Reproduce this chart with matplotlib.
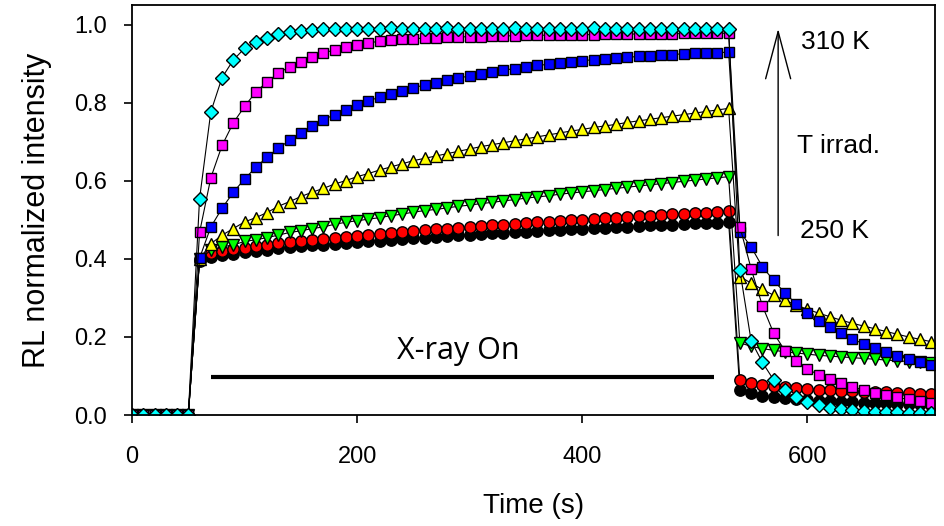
import matplotlib
matplotlib.use("Agg")
import matplotlib.pyplot as plt

# time axis (s), one reading every 10 s
time_s = [0, 10, 20, 30, 40, 50, 60, 70, 80, 90, 100, 110, 120, 130, 140, 150,
          160, 170, 180, 190, 200, 210, 220, 230, 240, 250, 260, 270, 280, 290,
          300, 310, 320, 330, 340, 350, 360, 370, 380, 390, 400, 410, 420, 430,
          440, 450, 460, 470, 480, 490, 500, 510, 520, 530, 540, 550, 560, 570,
          580, 590, 600, 610, 620, 630, 640, 650, 660, 670, 680, 690, 700, 710]

# normalized RL intensity, one list per irradiation temperature (250 K -> 310 K)
black = [0, 0, 0, 0, 0, 0,
         0.395, 0.405, 0.41, 0.414, 0.418, 0.421, 0.424, 0.427, 0.43, 0.432,
         0.435, 0.437, 0.439, 0.441, 0.443, 0.445, 0.447, 0.449, 0.451, 0.453,
         0.455, 0.457, 0.459, 0.461, 0.462, 0.464, 0.466, 0.467, 0.469, 0.47,
         0.472, 0.473, 0.475, 0.476, 0.478, 0.479, 0.48, 0.482, 0.483, 0.484,
         0.486, 0.487, 0.488, 0.489, 0.491, 0.492, 0.493, 0.495,
         0.064, 0.057, 0.05, 0.046, 0.043, 0.041, 0.039, 0.037, 0.035, 0.034,
         0.033, 0.032, 0.031, 0.03, 0.029, 0.028, 0.027, 0.026]
red = [0, 0, 0, 0, 0, 0,
       0.40, 0.415, 0.42, 0.425, 0.429, 0.433, 0.436, 0.44, 0.443, 0.446,
       0.449, 0.452, 0.455, 0.457, 0.46, 0.462, 0.465, 0.467, 0.47, 0.472,
       0.474, 0.476, 0.478, 0.48, 0.482, 0.484, 0.486, 0.488, 0.49, 0.492,
       0.494, 0.496, 0.498, 0.499, 0.501, 0.503, 0.504, 0.506, 0.508, 0.509,
       0.511, 0.513, 0.514, 0.516, 0.517, 0.519, 0.52, 0.522,
       0.09, 0.082, 0.077, 0.074, 0.071, 0.069, 0.067, 0.065, 0.064, 0.062,
       0.061, 0.06, 0.059, 0.058, 0.057, 0.056, 0.055, 0.054]
green = [0, 0, 0, 0, 0, 0,
         0.40, 0.422, 0.431, 0.436, 0.445, 0.449, 0.455, 0.461, 0.468, 0.472,
         0.478, 0.482, 0.489, 0.494, 0.498, 0.502, 0.506, 0.511, 0.515, 0.52,
         0.524, 0.527, 0.531, 0.535, 0.538, 0.542, 0.545, 0.549, 0.552, 0.556,
         0.559, 0.562, 0.566, 0.569, 0.572, 0.575, 0.578, 0.581, 0.584, 0.587,
         0.59, 0.593, 0.596, 0.599, 0.602, 0.605, 0.608, 0.611,
         0.185, 0.176, 0.17, 0.166, 0.162, 0.159, 0.156, 0.153, 0.151, 0.149,
         0.147, 0.145, 0.143, 0.141, 0.139, 0.137, 0.135, 0.133]
yellow = [0, 0, 0, 0, 0, 0,
          0.40, 0.439, 0.461, 0.478, 0.495, 0.506, 0.519, 0.535, 0.547, 0.56,
          0.571, 0.581, 0.592, 0.601, 0.611, 0.619, 0.628, 0.636, 0.644, 0.652,
          0.658, 0.664, 0.67, 0.676, 0.682, 0.688, 0.693, 0.698, 0.703, 0.708,
          0.713, 0.718, 0.723, 0.728, 0.732, 0.737, 0.741, 0.745, 0.75, 0.754,
          0.758, 0.762, 0.766, 0.77, 0.774, 0.778, 0.782, 0.786,
          0.355, 0.338, 0.322, 0.307, 0.294, 0.282, 0.271, 0.261, 0.252, 0.243,
          0.235, 0.228, 0.221, 0.214, 0.207, 0.2, 0.194, 0.188]
blue = [0, 0, 0, 0, 0, 0,
        0.402, 0.482, 0.53, 0.571, 0.605, 0.635, 0.661, 0.684, 0.704, 0.723,
        0.742, 0.757, 0.77, 0.783, 0.794, 0.805, 0.815, 0.824, 0.831, 0.839,
        0.846, 0.852, 0.858, 0.864, 0.869, 0.874, 0.879, 0.884, 0.888, 0.892,
        0.896, 0.899, 0.902, 0.905, 0.908, 0.911, 0.913, 0.915, 0.917, 0.919,
        0.921, 0.923, 0.924, 0.926, 0.927, 0.928, 0.929, 0.93,
        0.47, 0.431, 0.38, 0.345, 0.313, 0.285, 0.262, 0.242, 0.225, 0.209,
        0.195, 0.182, 0.171, 0.161, 0.152, 0.143, 0.135, 0.127]
magenta = [0, 0, 0, 0, 0, 0,
           0.468, 0.608, 0.691, 0.749, 0.791, 0.828, 0.854, 0.876, 0.893, 0.906,
           0.918, 0.928, 0.936, 0.943, 0.949, 0.954, 0.958, 0.961, 0.963, 0.965,
           0.966, 0.967, 0.968, 0.969, 0.97, 0.97, 0.971, 0.972, 0.972, 0.973,
           0.973, 0.974, 0.974, 0.975, 0.975, 0.975, 0.976, 0.976, 0.976, 0.977,
           0.977, 0.977, 0.977, 0.978, 0.978, 0.978, 0.978, 0.979,
           0.483, 0.375, 0.28, 0.21, 0.165, 0.138, 0.118, 0.103, 0.092, 0.082,
           0.073, 0.064, 0.057, 0.051, 0.045, 0.04, 0.036, 0.032]
cyan = [0, 0, 0, 0, 0, 0,
        0.554, 0.777, 0.865, 0.91, 0.94, 0.957, 0.967, 0.977, 0.983, 0.985,
        0.987, 0.989, 0.99, 0.99, 0.99, 0.99, 0.99, 0.991, 0.99, 0.99,
        0.99, 0.99, 0.991, 0.99, 0.99, 0.99, 0.99, 0.99, 0.991, 0.99,
        0.99, 0.99, 0.99, 0.99, 0.99, 0.991, 0.99, 0.99, 0.99, 0.99,
        0.99, 0.99, 0.99, 0.99, 0.99, 0.99, 0.99, 0.99,
        0.371, 0.19, 0.135, 0.09, 0.063, 0.045, 0.033, 0.025, 0.019, 0.015,
        0.012, 0.01, 0.009, 0.008, 0.007, 0.006, 0.005, 0.005]

series = [
    (black, 'o', '#000000', 8.2),
    (red, 'o', '#ff0000', 8.2),
    (green, 'v', '#00ff00', 8.0),
    (yellow, '^', '#ffff00', 8.0),
    (blue, 's', '#0000ff', 7.0),
    (magenta, 's', '#ff00ff', 7.0),
    (cyan, 'D', '#00ffff', 7.4),
]

plt.rcParams['font.family'] = ['Liberation Sans', 'DejaVu Sans']

fig = plt.figure(figsize=(9.45, 5.26), dpi=100)
ax = fig.add_axes([0.1397, 0.211, 0.8493, 0.7795])

for vals, mk, col, ms in series:
    ax.plot(time_s, vals, color='k', linewidth=0.8, marker=mk, markersize=ms,
            markerfacecolor=col, markeredgecolor='k', markeredgewidth=1.0)

# X-ray exposure bar
ax.plot([70, 517], [0.097, 0.097], color='k', linewidth=3, solid_capstyle='butt')
ax.text(290, 0.165, 'X-ray On', ha='center', va='center', fontsize=22,
        family=['Open Sans', 'DejaVu Sans'])

# temperature arrow
ax.annotate('', xy=(574, 0.99), xytext=(574, 0.46),
            arrowprops=dict(arrowstyle='->, head_length=1.7, head_width=0.45',
                            color='k', lw=1.0, mutation_scale=20,
                            shrinkA=0, shrinkB=0))
ax.text(594, 0.955, '310 K', ha='left', va='center', fontsize=19)
ax.text(591, 0.69, 'T irrad.', ha='left', va='center', fontsize=19)
ax.text(593, 0.472, '250 K', ha='left', va='center', fontsize=19)

ax.set_xlim(0, 713)
ax.set_ylim(0, 1.051)
ax.set_xticks([0, 200, 400, 600])
ax.set_yticks([0.0, 0.2, 0.4, 0.6, 0.8, 1.0])
ax.set_yticklabels(['0.0', '0.2', '0.4', '0.6', '0.8', '1.0'])
ax.tick_params(direction='out', length=6, width=1.2, labelsize=17)
ax.tick_params(axis='y', pad=12)
ax.tick_params(axis='x', pad=16)
for sp in ax.spines.values():
    sp.set_linewidth(1.3)

ax.set_xlabel('Time (s)', fontsize=20, labelpad=18)
ax.set_ylabel('RL normalized intensity', fontsize=22, labelpad=16)

fig.savefig('out.png', dpi=100)
